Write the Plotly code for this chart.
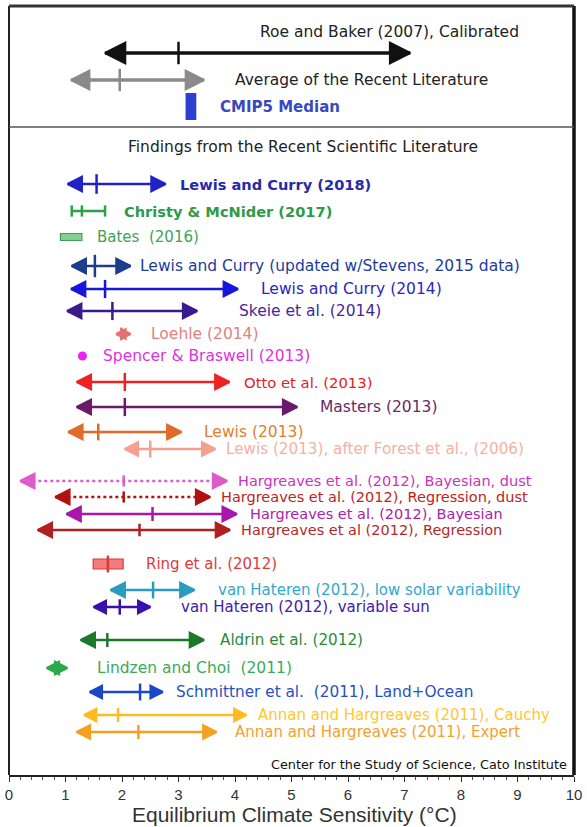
import plotly.graph_objects as go

# Top panel reference values (ECS, deg C)
ROE_BAKER = [1.7, 3.0, 7.1]          # low, best, high
RECENT_AVERAGE = [1.1, 1.96, 3.45]   # low, best, high
CMIP5_MEDIAN = 3.22

# Findings from the recent literature
NAMES = [
    'Lewis and Curry (2018)',
    'Christy & McNider (2017)',
    'Bates  (2016)',
    'Lewis and Curry (updated w/Stevens, 2015 data)',
    'Lewis and Curry (2014)',
    'Skeie et al. (2014)',
    'Loehle (2014)',
    'Spencer & Braswell (2013)',
    'Otto et al. (2013)',
    'Masters (2013)',
    'Lewis (2013)',
    'Lewis (2013), after Forest et al., (2006)',
    'Hargreaves et al. (2012), Bayesian, dust',
    'Hargreaves et al. (2012), Regression, dust',
    'Hargreaves et al. (2012), Bayesian',
    'Hargreaves et al (2012), Regression',
    'Ring et al. (2012)',
    'van Hateren (2012), low solar variability',
    'van Hateren (2012), variable sun',
    'Aldrin et al. (2012)',
    'Lindzen and Choi  (2011)',
    'Schmittner et al.  (2011), Land+Ocean',
    'Annan and Hargreaves (2011), Cauchy',
    'Annan and Hargreaves (2011), Expert',
]
LOW = [1.04, 1.11, 0.91, 1.11, 1.10, 1.03, 1.90, None, 1.20, 1.20, 1.05, 2.05,
       0.20, 0.82, 1.02, 0.51, 1.49, 1.80, 1.50, 1.27, 0.67, 1.43, 1.33, 1.20]
BEST = [1.55, 1.29, None, 1.52, 1.70, 1.83, 1.99, 1.30, 2.05, 2.05, 1.58, 2.50,
        2.03, 2.03, 2.54, 2.31, 1.75, 2.55, 1.96, 1.74, None, 2.32, 1.93, 2.29]
HIGH = [2.77, 1.70, 1.29, 2.15, 4.05, 3.33, 2.15, None, 3.90, 5.10, 3.05, 3.65,
        3.86, 3.56, 4.03, 3.91, 2.02, 3.28, 2.50, 3.45, 1.03, 2.72, 4.20, 3.67]
X_TICKS = list(range(0, 11))

# styling / layout per row (vertical slot, marker kind, colours, label gap in px)
ROW_Y = [184, 211, 237, 266, 289, 311, 334, 356, 382, 407, 432, 449,
         481, 497, 514, 530, 564, 590, 607, 640, 668, 692, 715, 732]
KIND = ['arrow', 'cap', 'box', 'arrow', 'arrow', 'arrow', 'arrow', 'dot', 'arrow', 'arrow',
        'arrow', 'arrow', 'arrow', 'arrow', 'arrow', 'arrow', 'box', 'arrow', 'arrow',
        'arrow', 'arrow', 'arrow', 'arrow', 'arrow']
DASH = ['solid'] * 12 + ['dot', 'dot'] + ['solid'] * 10
COLORS = ['#2222c4', '#2ea04a', '#3f9e55', '#1c3c8c', '#1616dc', '#3b1b8c', '#e07272',
          '#ee22ee', '#ee2222', '#6a1a68', '#e06a2a', '#f4a090', '#dd5ccc', '#b01212',
          '#aa16aa', '#b02020', '#d83a3a', '#2a9cc0', '#3a12aa', '#1a7a2a', '#2aaa4a',
          '#1a48c8', '#ffbb22', '#f5a020']
FILLS = {2: '#84d090', 16: '#f27c7c'}
LABEL_COLORS = ['#2a2aa8', '#2e9a4a', '#3aa55a', '#1c3c9c', '#2828c0', '#44289a', '#e08282',
                '#dd33dd', '#e02222', '#6a2a6a', '#e08030', '#f8b0a0', '#cc33bb', '#c02222',
                '#aa22aa', '#b02a2a', '#e03a3a', '#33a8cc', '#4020aa', '#2a8a3a', '#3aaa5a',
                '#2a50c0', '#ffc830', '#f5a030']
BOLD = [0, 1]
LABEL_GAP = [12, 17, 13, 8, 21, 40, 19, 19, 13, 21, 21, 9, 9, 9, 11, 9, 21, 22, 29, 14,
             28, 11, 10, 17]
LABEL_SIZE = [14.6, 14.6, 15, 15.5, 15.5, 15.5, 15.5, 15.5, 14.8, 15.5, 15.5, 15.2,
              14.5, 14.5, 14.5, 14.5, 15, 15, 15, 15.2, 15.5, 15.3, 15, 15]
HEAD = [14, 0, 0, 14, 14, 14, 9, 0, 14, 14, 14, 13, 14, 14, 14, 14, 0, 14, 12, 14, 12, 12,
        12, 13]
TICK = [14, 8, 0, 16, 13, 13, 9, 0, 13, 13, 12, 12, 8, 8, 10, 9, 12, 12, 11, 10, 0, 12, 10,
        10]

FONT = 'DejaVu Sans, Verdana, sans-serif'
AXIS_FONT = 'Liberation Sans, Arial, sans-serif'

fig = go.Figure()
annotations = []


def add_arrow(lo, best, hi, y, color, head, tick, width=2.5, dash='solid'):
    xs = [lo, hi]
    symbols = ['arrow-left', 'arrow-right']
    sizes = [head, head]
    if best is not None:
        xs = [lo, best, hi]
        symbols = ['arrow-left', 'line-ns', 'arrow-right']
        sizes = [head, tick, head]
    fig.add_trace(go.Scatter(
        x=xs, y=[y] * len(xs), mode='lines+markers',
        line=dict(color=color, width=width, dash=dash),
        marker=dict(symbol=symbols, size=sizes, color=color, opacity=1,
                    line=dict(color=color, width=2.5)),
        cliponaxis=False, showlegend=False, hoverinfo='skip'))


def add_label(x, y, text, color, gap, size, bold=False):
    annotations.append(dict(
        x=x, y=y, xref='x', yref='y', text=f'<b>{text}</b>' if bold else text,
        showarrow=False, xanchor='left', yanchor='middle', xshift=gap,
        font=dict(family=FONT, size=size, color=color)))


# --- top panel ---
add_arrow(*ROE_BAKER, 53, '#111111', 20, 16, width=3.5)
annotations.append(dict(x=4.4, y=32, xref='x', yref='y', text='Roe and Baker (2007), Calibrated',
                        showarrow=False, xanchor='left', yanchor='middle',
                        font=dict(family=FONT, size=15.5, color='#222222')))
add_arrow(*RECENT_AVERAGE, 80, '#8a8a8a', 18, 16, width=3.5)
add_label(RECENT_AVERAGE[2], 80, 'Average of the Recent Literature', '#222222', 29, 15.5)
fig.add_trace(go.Bar(x=[0.19], base=[CMIP5_MEDIAN - 0.095], y=[106.5], width=27,
                     orientation='h', marker=dict(color='#2b3fd0', line=dict(width=0)),
                     showlegend=False, hoverinfo='skip'))
add_label(CMIP5_MEDIAN + 0.095, 107, 'CMIP5 Median', '#3a48c0', 22, 15, bold=True)

annotations.append(dict(x=0.52, y=147, xref='paper', yref='y',
                        text='Findings from the Recent Scientific Literature', showarrow=False,
                        xanchor='center', yanchor='middle',
                        font=dict(family=FONT, size=15.5, color='#222222')))

# --- findings ---
for i, name in enumerate(NAMES):
    lo, best, hi, y, c = LOW[i], BEST[i], HIGH[i], ROW_Y[i], COLORS[i]
    kind = KIND[i]
    if kind == 'arrow':
        add_arrow(lo, best, hi, y, c, HEAD[i], TICK[i], dash=DASH[i])
        end = hi
    elif kind == 'cap':
        fig.add_trace(go.Scatter(
            x=[lo, best, hi], y=[y] * 3, mode='lines+markers',
            line=dict(color=c, width=2.5),
            marker=dict(symbol='line-ns', size=TICK[i], color=c, line=dict(color=c, width=2.5)),
            showlegend=False, hoverinfo='skip'))
        end = hi
    elif kind == 'box':
        h = 7 if best is None else 10
        fig.add_trace(go.Bar(x=[hi - lo], base=[lo], y=[y], width=h, orientation='h',
                             marker=dict(color=FILLS[i], line=dict(color=c, width=1.2)),
                             showlegend=False, hoverinfo='skip'))
        if best is not None:
            fig.add_trace(go.Scatter(
                x=[best], y=[y], mode='markers',
                marker=dict(symbol='line-ns', size=TICK[i], line=dict(color=c, width=2.5)),
                showlegend=False, hoverinfo='skip'))
        end = hi
    else:
        fig.add_trace(go.Scatter(x=[best], y=[y], mode='markers',
                                 marker=dict(size=9, color=c), showlegend=False,
                                 hoverinfo='skip'))
        end = best
    add_label(end, y, name, LABEL_COLORS[i], LABEL_GAP[i], LABEL_SIZE[i], bold=i in BOLD)

annotations.append(dict(x=1, y=764, xref='paper', yref='y', xshift=-5,
                        text='Center for the Study of Science, Cato Institute', showarrow=False,
                        xanchor='right', yanchor='middle',
                        font=dict(family=FONT, size=12.8, color='#111111')))

# axis title, placed just under the tick labels
annotations.append(dict(x=0.506, y=-0.052, xref='paper', yref='paper',
                        text='Equilibrium Climate Sensitivity (°C)', showarrow=False,
                        xanchor='center', yanchor='middle',
                        font=dict(family=AXIS_FONT, size=21, color='#333333')))

shapes = [
    dict(type='line', xref='paper', yref='paper', x0=0, x1=0, y0=0, y1=1,
         line=dict(color='#222222', width=2)),
    dict(type='line', xref='paper', yref='paper', x0=1, x1=1, y0=0, y1=1,
         line=dict(color='#111111', width=3.5)),
    dict(type='line', xref='paper', yref='paper', x0=0, x1=1, y0=1, y1=1,
         line=dict(color='#333333', width=3)),
    dict(type='line', xref='paper', yref='y', x0=0, x1=1, y0=127, y1=127,
         line=dict(color='#555555', width=1.5)),
]

fig.update_layout(
    width=587, height=827,
    margin=dict(l=9, r=5, t=6, b=52),
    paper_bgcolor='white', plot_bgcolor='white',
    barmode='overlay',
    showlegend=False,
    annotations=annotations,
    shapes=shapes,
    xaxis=dict(range=[0, 10], tickvals=X_TICKS, ticks='outside', ticklen=5,
               tickwidth=1.2, tickcolor='#333333', showline=True, linecolor='#222222',
               linewidth=2, showgrid=False, zeroline=False, ticklabeloverflow='allow',
               minor=dict(dtick=0.2, ticks='outside', ticklen=3, tickcolor='#555555'),
               tickfont=dict(family=AXIS_FONT, size=15, color='#333333')),
    yaxis=dict(range=[775, 6], visible=False, showgrid=False, zeroline=False),
)

# drop the default page margin so the figure sits at the window origin
fig.write_html('out.html', config={'displayModeBar': False},
               post_script="document.body.style.margin='0px';")
